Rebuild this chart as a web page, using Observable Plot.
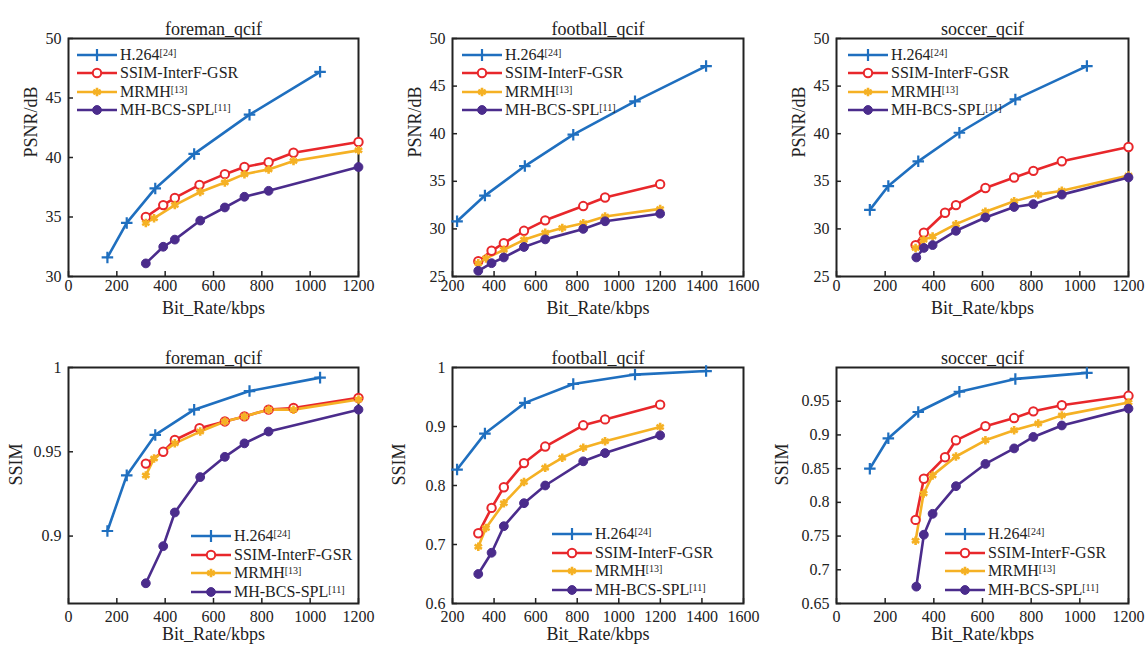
<!DOCTYPE html>
<html><head><meta charset="utf-8">
<script src="https://cdn.jsdelivr.net/npm/d3@7"></script>
<script src="https://cdn.jsdelivr.net/npm/@observablehq/plot@0.6"></script>
<style>
html,body{margin:0;padding:0;background:#fff;}
#root{position:relative;width:1148px;height:651px;overflow:hidden;font-family:'Liberation Serif','Times New Roman',serif;}
.panel{position:absolute;}
.panel svg text{font-family:'Liberation Serif','Times New Roman',serif;}
.legend{position:absolute;font-size:16px;color:#222;line-height:18.5px;}
.legend .row{display:flex;align-items:center;height:18.5px;white-space:nowrap;}
.legend sup{font-size:10px;vertical-align:top;position:relative;top:-2px;}
.legend svg{margin-right:3px;overflow:visible;}
</style></head>
<body><div id="root"></div>
<script>
// ---- series names ----
const methods = ["H.264", "SSIM-InterF-GSR", "MRMH", "MH-BCS-SPL"];
const methodRefs = ["[24]", "", "[13]", "[11]"];
const colors = ["#1f6fbf", "#e8272b", "#f5b124", "#4b2c8c"];

// ---- foreman_qcif ----
const foremanRateH264 = [161, 241, 359, 520, 749, 1041];
const foremanPsnrH264 = [31.6, 34.5, 37.4, 40.3, 43.6, 47.2];
const foremanSsimH264 = [0.903, 0.936, 0.960, 0.975, 0.986, 0.994];
const foremanRateGSR = [320, 392, 440, 542, 647, 728, 828, 931, 1200];
const foremanPsnrGSR = [35.0, 36.0, 36.6, 37.7, 38.6, 39.2, 39.6, 40.4, 41.3];
const foremanSsimGSR = [0.943, 0.950, 0.957, 0.964, 0.968, 0.971, 0.975, 0.976, 0.982];
const foremanRateMRMH = [320, 354, 440, 545, 647, 728, 828, 931, 1200];
const foremanPsnrMRMH = [34.5, 34.9, 36.0, 37.1, 37.9, 38.6, 39.0, 39.7, 40.6];
const foremanSsimMRMH = [0.936, 0.946, 0.955, 0.962, 0.968, 0.971, 0.975, 0.975, 0.981];
const foremanRateMH = [320, 392, 440, 545, 647, 728, 828, 1200];
const foremanPsnrMH = [31.1, 32.5, 33.1, 34.7, 35.8, 36.7, 37.2, 39.2];
const foremanSsimMH = [0.872, 0.894, 0.914, 0.935, 0.947, 0.955, 0.962, 0.975];

// ---- football_qcif ----
const footballRateH264 = [222, 356, 548, 781, 1078, 1420];
const footballPsnrH264 = [30.8, 33.5, 36.6, 39.9, 43.4, 47.1];
const footballSsimH264 = [0.827, 0.888, 0.940, 0.972, 0.988, 0.994];
const footballRateGSR = [324, 388, 447, 544, 646, 829, 934, 1199];
const footballPsnrGSR = [26.6, 27.7, 28.5, 29.8, 30.9, 32.4, 33.3, 34.7];
const footballSsimGSR = [0.719, 0.762, 0.797, 0.838, 0.866, 0.902, 0.912, 0.937];
const footballRateMRMH = [324, 361, 447, 544, 646, 728, 829, 934, 1199];
const footballPsnrMRMH = [26.4, 26.9, 27.8, 28.85, 29.6, 30.1, 30.6, 31.3, 32.1];
const footballSsimMRMH = [0.696, 0.728, 0.770, 0.806, 0.830, 0.847, 0.864, 0.875, 0.899];
const footballRateMH = [324, 388, 447, 544, 646, 829, 934, 1199];
const footballPsnrMH = [25.6, 26.4, 27.0, 28.1, 28.9, 30.0, 30.8, 31.6];
const footballSsimMH = [0.650, 0.686, 0.731, 0.770, 0.800, 0.841, 0.855, 0.885];

// ---- soccer_qcif ----
const soccerRateH264 = [137, 213, 336, 505, 735, 1029];
const soccerPsnrH264 = [32.0, 34.5, 37.1, 40.1, 43.6, 47.1];
const soccerSsimH264 = [0.850, 0.895, 0.934, 0.964, 0.983, 0.992];
const soccerRateGSR = [325, 359, 446, 491, 612, 730, 809, 926, 1200];
const soccerPsnrGSR = [28.3, 29.6, 31.7, 32.5, 34.3, 35.4, 36.1, 37.1, 38.6];
const soccerSsimGSR = [0.774, 0.835, 0.867, 0.892, 0.913, 0.925, 0.935, 0.944, 0.958];
const soccerRateMRMH = [325, 358, 395, 491, 612, 730, 829, 926, 1200];
const soccerPsnrMRMH = [28.0, 28.85, 29.2, 30.5, 31.8, 32.9, 33.6, 34.0, 35.6];
const soccerSsimMRMH = [0.743, 0.813, 0.840, 0.868, 0.892, 0.907, 0.917, 0.929, 0.948];
const soccerRateMH = [328, 359, 395, 491, 612, 730, 809, 926, 1200];
const soccerPsnrMH = [27.0, 28.0, 28.3, 29.8, 31.2, 32.3, 32.6, 33.6, 35.4];
const soccerSsimMH = [0.675, 0.752, 0.783, 0.824, 0.857, 0.880, 0.897, 0.914, 0.939];

// ---- axis ticks ----
const xTicks1200 = [0, 200, 400, 600, 800, 1000, 1200];
const xTicks1600 = [200, 400, 600, 800, 1000, 1200, 1400, 1600];
const psnrTicks30 = [30, 35, 40, 45, 50];
const psnrTicks25 = [25, 30, 35, 40, 45, 50];
const ssimTicksForeman = [0.9, 0.95, 1];
const ssimTicksFootball = [0.6, 0.7, 0.8, 0.9, 1];
const ssimTicksSoccer = [0.65, 0.7, 0.75, 0.8, 0.85, 0.9, 0.95];

function series(rates, vals) {
  return methods.flatMap((m, k) => rates[k].map((x, i) => ({x, y: vals[k][i], k})));
}

const panels = [
  {title: "foreman_qcif", left: 0, top: 0, ml: 68, fw: 290, row: 0, xd: [0, 1200], xt: xTicks1200, yd: [30, 50], yt: psnrTicks30, yl: "PSNR/dB", lo: 46,
   data: series([foremanRateH264, foremanRateGSR, foremanRateMRMH, foremanRateMH], [foremanPsnrH264, foremanPsnrGSR, foremanPsnrMRMH, foremanPsnrMH]),
   leg: {x: 77, y: 45.5}},
  {title: "football_qcif", left: 382, top: 0, ml: 70, fw: 291, row: 0, xd: [200, 1600], xt: xTicks1600, yd: [25, 50], yt: psnrTicks25, yl: "PSNR/dB", lo: 46,
   data: series([footballRateH264, footballRateGSR, footballRateMRMH, footballRateMH], [footballPsnrH264, footballPsnrGSR, footballPsnrMRMH, footballPsnrMH]),
   leg: {x: 462, y: 45.5}},
  {title: "soccer_qcif", left: 766, top: 0, ml: 70, fw: 292, row: 0, xd: [0, 1200], xt: xTicks1200, yd: [25, 50], yt: psnrTicks25, yl: "PSNR/dB", lo: 46,
   data: series([soccerRateH264, soccerRateGSR, soccerRateMRMH, soccerRateMH], [soccerPsnrH264, soccerPsnrGSR, soccerPsnrMRMH, soccerPsnrMH]),
   leg: {x: 848, y: 45.5}},
  {title: "foreman_qcif", left: 0, top: 329, ml: 68, fw: 290, row: 1, xd: [0, 1200], xt: xTicks1200, yd: [0.86, 1], yt: ssimTicksForeman, yl: "SSIM", lo: 61,
   data: series([foremanRateH264, foremanRateGSR, foremanRateMRMH, foremanRateMH], [foremanSsimH264, foremanSsimGSR, foremanSsimMRMH, foremanSsimMH]),
   leg: {x: 191, y: 527}},
  {title: "football_qcif", left: 382, top: 329, ml: 70, fw: 291, row: 1, xd: [200, 1600], xt: xTicks1600, yd: [0.6, 1], yt: ssimTicksFootball, yl: "SSIM", lo: 62,
   data: series([footballRateH264, footballRateGSR, footballRateMRMH, footballRateMH], [footballSsimH264, footballSsimGSR, footballSsimMRMH, footballSsimMH]),
   leg: {x: 552, y: 525}},
  {title: "soccer_qcif", left: 766, top: 329, ml: 70, fw: 292, row: 1, xd: [0, 1200], xt: xTicks1200, yd: [0.65, 1], yt: ssimTicksSoccer, yl: "SSIM", lo: 63,
   data: series([soccerRateH264, soccerRateGSR, soccerRateMRMH, soccerRateMH], [soccerSsimH264, soccerSsimGSR, soccerSsimMRMH, soccerSsimMH]),
   leg: {x: 945, y: 525}}
];

const root = document.getElementById("root");
const font = "'Liberation Serif','Times New Roman',serif";
const fmt = d => String(d);

for (const p of panels) {
  const mt = 38, fh = p.row === 0 ? 238 : 236, mb = p.row === 0 ? 50 : 48, mr = 18;
  const sub = (k) => p.data.filter(d => d.k === k);
  const marks = [
    Plot.frame({stroke: "#222", strokeWidth: 2})
  ];
  methods.forEach((m, k) => {
    marks.push(Plot.line(sub(k), {x: "x", y: "y", stroke: colors[k], strokeWidth: 2.6}));
  });
  methods.forEach((m, k) => {
    const d = sub(k);
    if (k === 0) marks.push(Plot.dot(d, {x: "x", y: "y", symbol: "plus", r: 3.8, stroke: colors[k], strokeWidth: 2.2}));
    if (k === 1) marks.push(Plot.dot(d, {x: "x", y: "y", symbol: "circle", r: 4.2, fill: "#fff", stroke: colors[k], strokeWidth: 2}));
    if (k === 2) marks.push(Plot.dot(d, {x: "x", y: "y", symbol: "asterisk", r: 4, stroke: colors[k], strokeWidth: 2.6}));
    if (k === 3) marks.push(Plot.dot(d, {x: "x", y: "y", symbol: "circle", r: 4.4, fill: colors[k], stroke: colors[k], strokeWidth: 1}));
  });
  marks.push(
    Plot.axisX(p.xt, {tickSize: -5, text: null, label: null, stroke: "#222", strokeWidth: 1.5}),
    Plot.axisX(p.xt, {tickSize: 0, tickPadding: p.row === 0 ? 3 : 7, label: null, fontSize: 16, fill: "#222", tickFormat: fmt, fontFamily: font}),
    Plot.axisY(p.yt, {tickSize: -5, text: null, label: null, stroke: "#222", strokeWidth: 1.5}),
    Plot.axisY(p.yt, {tickSize: 0, tickPadding: 7, label: null, fontSize: 16, fill: "#222", tickFormat: fmt, fontFamily: font}),
    Plot.text([p.title], {frameAnchor: "top", dy: -16, fontSize: 18, fill: "#222", fontFamily: font}),
    Plot.text(["Bit_Rate/kbps"], {frameAnchor: "bottom", dy: p.row === 0 ? 37 : 36, fontSize: 18, fill: "#222", fontFamily: font}),
    Plot.text([p.yl], {frameAnchor: "left", dx: -p.lo + 9, rotate: -90, fontSize: 18, fill: "#222", fontFamily: font})
  );
  const chart = Plot.plot({
    width: p.ml + p.fw + mr,
    height: mt + fh + mb,
    marginLeft: p.ml, marginRight: mr, marginTop: mt, marginBottom: mb,
    style: {fontFamily: font, fontSize: "16px", background: "transparent", overflow: "visible", color: "#222"},
    x: {domain: p.xd},
    y: {domain: p.yd},
    marks
  });
  const wrap = document.createElement("div");
  wrap.className = "panel";
  wrap.style.left = p.left + "px";
  wrap.style.top = p.top + "px";
  wrap.appendChild(chart);
  root.appendChild(wrap);

  // legend
  const lg = document.createElement("div");
  lg.className = "legend";
  lg.style.left = p.leg.x + "px";
  lg.style.top = p.leg.y + "px";
  methods.forEach((m, k) => {
    const row = document.createElement("div");
    row.className = "row";
    const svg = d3.create("svg").attr("width", 40).attr("height", 18);
    svg.append("line").attr("x1", 0).attr("x2", 40).attr("y1", 9).attr("y2", 9)
      .attr("stroke", colors[k]).attr("stroke-width", 2.6);
    const g = svg.append("g").attr("transform", "translate(20,9)");
    if (k === 0) g.append("path").attr("d", d3.symbol(d3.symbolPlus, 50)()).attr("fill", "none").attr("stroke", colors[k]).attr("stroke-width", 2.2);
    if (k === 1) g.append("circle").attr("r", 4.2).attr("fill", "#fff").attr("stroke", colors[k]).attr("stroke-width", 2);
    if (k === 2) g.append("path").attr("d", d3.symbol(d3.symbolAsterisk, 50)()).attr("fill", "none").attr("stroke", colors[k]).attr("stroke-width", 2.6);
    if (k === 3) g.append("circle").attr("r", 4.4).attr("fill", colors[k]).attr("stroke", colors[k]);
    row.appendChild(svg.node());
    const span = document.createElement("span");
    span.textContent = m;
    if (methodRefs[k]) {
      const sup = document.createElement("sup");
      sup.textContent = methodRefs[k];
      span.appendChild(sup);
    }
    row.appendChild(span);
    lg.appendChild(row);
  });
  root.appendChild(lg);
}
</script>
</body></html>
